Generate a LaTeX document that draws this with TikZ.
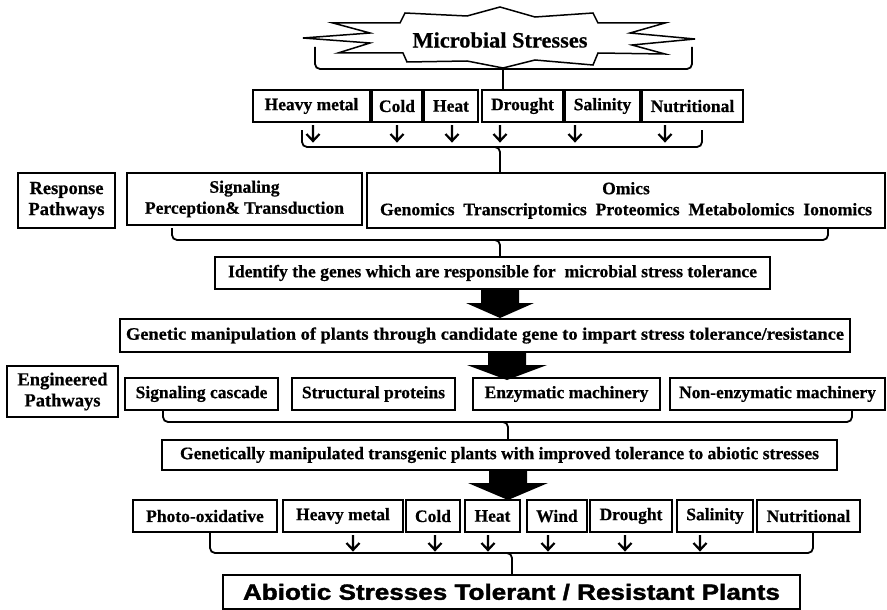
\documentclass[tikz,border=0pt]{standalone}
\usepackage{fontspec}
\setmainfont{Liberation Serif}[BoldFeatures={FakeBold=0.6}]
\setsansfont{Liberation Sans}[BoldFeatures={FakeBold=1.6}]
\usetikzlibrary{arrows.meta,calc}
\newlength\fitlen
\newcommand\fitw[2]{\settowidth\fitlen{#2}\pgfmathsetmacro\fitr{#1/\fitlen}\scalebox{\fitr}[1]{#2}}
\newcommand\bx[6]{\node[box,minimum width={(#4-#2)*1pt},minimum height={(#5-#3)*1pt}] (#1) at ({(#2+#4)/2},{(#3+#5)/2}) {#6};}
\newcommand\bigarr[5]{\fill ($(#1.south)+(#2,0)$) ++(-19,0) -- ++(38,0) -- ++(0,#3) -- ++(#5-19,0) -- ++(-#5,#4) -- ++(-#5,-#4) -- ++(#5-19,0) -- cycle;}
\newcommand\smarr[3]{\draw[arr] ($(#1.south)+(#2,3)$) -- ++(0,#3) ++(-6.5,-7) -- ++(6.5,7) -- ++(6.5,-7);}
\begin{document}
\begin{tikzpicture}[x=1pt,y=-1pt,
  box/.style={draw,line width=1.8pt,inner sep=0pt,outer sep=0pt,align=center,
    font=\bfseries\fontsize{17.5}{21}\selectfont},
  arr/.style={line width=2.2pt,line join=miter},
  brc/.style={line width=1.8pt,rounded corners=5pt}]
\useasboundingbox (0,0) rectangle (887,610);
% star
\draw[line width=1.5pt,line join=miter] (500,7) -- (535,17) -- (593,13) -- (598,23) -- (665,23) -- (630,33) -- (695,39) -- (632,45) -- (665,54) -- (598,53) -- (593,65) -- (535,60) -- (503,68) -- (467,61) -- (407,62) -- (403,53) -- (338,53) -- (370,43) -- (303,38) -- (370,33) -- (333,23) -- (400,23) -- (405,13) -- (467,16) -- cycle;
\node[font=\bfseries\fontsize{22}{26}\selectfont] (star) at (500,40) {\fitw{175}{Microbial Stresses}};
\draw[brc] (315,47) -- (315,69) -- (692,69) -- (692,47);
% row 1
\bx{hm1}{253}{90}{370}{122}{Heavy metal}
\bx{co1}{372}{90}{422}{122}{Cold}
\bx{he1}{424}{90}{478}{122}{Heat}
\bx{dr1}{482}{90}{563}{122}{Drought}
\bx{sa1}{565}{90}{640}{122}{Salinity}
\bx{nu1}{642}{90}{743}{122}{Nutritional}
\draw[line width=1.8pt] (star.south) ++(3,17) -- (dr1.north -| 503,0);
\smarr{hm1}{1.5}{16}
\smarr{co1}{0}{16}
\smarr{he1}{1}{16}
\smarr{dr1}{-22.5}{16}
\smarr{sa1}{-27.5}{16}
\smarr{nu1}{-27.5}{16}
% response
\bx{rp}{18}{173}{115}{228}{\fontsize{18.5}{21}\selectfont Response\\\fontsize{18.5}{21}\selectfont Pathways}
\bx{sig}{127}{173}{362}{225}{Signaling\\\fitw{199}{Perception\& Transduction}}
\bx{om}{367}{173}{885}{228}{Omics\\\fitw{492}{Genomics\ \ Transcriptomics\ \ Proteomics\ \ Metabolomics\ \ Ionomics}}
\draw[brc] (302,130) -- (302,147) -- (702,147) -- (702,130);
\draw[brc] (400,147) -- (500,147) -- (500,173);
\draw[brc] (172,228) -- (172,240) -- (828,240) -- (828,228);
\draw[brc] (400,240) -- (500,240) -- (500,257);
\bx{idf}{215}{257}{770}{289}{\fitw{529}{Identify the genes which are responsible for\ \ microbial stress tolerance}}
\bigarr{idf}{7.5}{14}{15}{34}
\bx{gen}{120}{319}{850}{352}{\fitw{718}{Genetic manipulation of plants through candidate gene to impart stress tolerance/resistance}}
\bigarr{gen}{22}{13}{15}{40}
% engineered
\bx{ep}{7}{366}{118}{417}{\fontsize{18.5}{21}\selectfont Engineered\\\fontsize{18.5}{21}\selectfont Pathways}
\bx{sc}{125}{378}{278}{410}{Signaling cascade}
\bx{sp}{292}{378}{455}{410}{Structural proteins}
\bx{em}{473}{378}{660}{410}{Enzymatic machinery}
\bx{nem}{670}{378}{885}{410}{Non-enzymatic machinery}
\draw[brc] (163,410) -- (163,422) -- (852,422) -- (852,410);
\draw[brc] (400,422) -- (508,422) -- (508,440);
\bx{gm}{162}{440}{837}{470}{\fitw{639}{Genetically manipulated transgenic plants with improved tolerance to abiotic stresses}}
\bigarr{gm}{8.5}{13}{17}{40}
% bottom row
\bx{po}{133}{500}{277}{532}{Photo-oxidative}
\bx{hm2}{283}{500}{403}{532}{Heavy metal}
\bx{co2}{406}{500}{460}{532}{Cold}
\bx{he2}{465}{500}{520}{532}{Heat}
\bx{wi}{527}{500}{587}{532}{Wind}
\bx{dr2}{590}{500}{672}{532}{Drought}
\bx{sa2}{677}{500}{753}{532}{Salinity}
\bx{nu2}{757}{500}{860}{532}{Nutritional}
\smarr{hm2}{10}{15}
\smarr{co2}{2}{15}
\smarr{he2}{-4.5}{15}
\smarr{wi}{-9}{15}
\smarr{dr2}{-6}{15}
\smarr{sa2}{-15}{15}
\draw[brc] (210,532) -- (210,553) -- (813,553) -- (813,532);
\draw[brc] (400,553) -- (512,553) -- (512,575);
\node[draw,line width=1.8pt,inner sep=0pt,minimum width=577pt,minimum height=34pt,
  font=\sffamily\bfseries\fontsize{22}{26}\selectfont] (ab) at (511.5,592) {\fitw{537}{Abiotic Stresses Tolerant / Resistant Plants}};
\end{tikzpicture}
\end{document}
